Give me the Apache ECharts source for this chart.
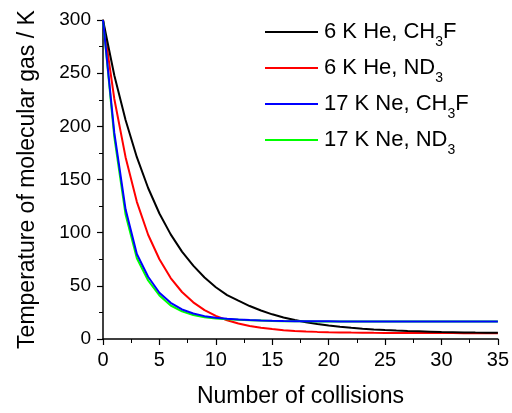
<!DOCTYPE html>
<html>
<head>
<meta charset="utf-8">
<script src="https://cdn.jsdelivr.net/npm/echarts@6/dist/echarts.min.js"></script>
<style>
html,body{margin:0;padding:0;background:#fff;}
#chart{width:512px;height:413px;}
</style>
</head>
<body>
<div id="chart"></div>
<script>
const collisions = [0,1,2,3,4,5,6,7,8,9,10,11,12,13,14,15,16,17,18,19,20,21,22,23,24,25,26,27,28,29,30,31,32,33,34,35];
const he6CH3F = [300,248,206,171,142,118,98.4,82.2,69,57.8,48.7,41.3,36,31,26.8,23.2,20.3,17.8,15.8,14.1,12.7,11.5,10.5,9.7,9.0,8.4,7.9,7.5,7.2,6.9,6.6,6.4,6.2,6.0,5.9,5.8];
const he6ND3 = [300,226,171,129,98,75,57.3,44.2,34.5,27.2,21.7,17.6,14.6,12.3,10.6,9.3,8.3,7.6,7.1,6.7,6.4,6.2,6.0,5.9,5.8,5.75,5.7,5.65,5.6,5.6,5.55,5.55,5.5,5.5,5.5,5.5];
const ne17CH3F = [300,194,122,80,58.5,43.5,34,27.8,24,21.5,20,19,18.3,17.8,17.4,17.1,16.9,16.8,16.7,16.6,16.6,16.5,16.5,16.5,16.5,16.5,16.5,16.5,16.5,16.5,16.5,16.5,16.5,16.5,16.5,16.5];
const ne17ND3 = [300,190,117,76,55,41,31.5,26,22.5,20.5,19.3,18.6,18.1,17.6,17.3,17.0,16.8,16.7,16.6,16.5,16.5,16.5,16.5,16.5,16.5,16.5,16.5,16.5,16.5,16.5,16.5,16.5,16.5,16.5,16.5,16.5];
const seriesNames = ['6 K He, CH3F','6 K He, ND3','17 K Ne, CH3F','17 K Ne, ND3'];
const seriesColors = ['#000000','#ff0000','#0000ff','#00ff00'];
const xTicks = {min:0,max:35,interval:5};
const yTicks = {min:0,max:300,interval:50};
const xTitle = 'Number of collisions';
const yTitle = 'Temperature of molecular gas / K';

const FONT = "'Liberation Sans', Arial, sans-serif";
const pairs = arr => collisions.map((c,i)=>[c,arr[i]]);
const valuesBy = [he6CH3F, he6ND3, ne17CH3F, ne17ND3];
const zOrder = [4,3,6,5];

const chart = echarts.init(document.getElementById('chart'));
chart.setOption({
  animation:false,
  backgroundColor:'#fff',
  grid:{left:103,right:12,top:20,bottom:70,containLabel:false},
  legend:{
    data:seriesNames,
    orient:'vertical',
    left:260, top:16,
    icon:'rect',
    itemWidth:53, itemHeight:2, itemGap:8,
    selectedMode:false,
    textStyle:{
      fontSize:22, color:'#000', fontFamily:FONT, padding:[0,0,0,1],
      rich:{ s:{fontSize:14, color:'#000', fontFamily:FONT, padding:[20,0,0,0]} }
    },
    formatter: n => n.replace('CH3','CH{s|3}').replace('ND3','ND{s|3}')
  },
  xAxis:{
    type:'value', min:xTicks.min, max:xTicks.max, interval:xTicks.interval,
    name:xTitle, nameLocation:'middle', nameGap:46,
    nameTextStyle:{fontSize:23,color:'#000',fontFamily:FONT},
    axisLine:{show:true,onZero:false,lineStyle:{color:'#000',width:1.5}},
    axisTick:{show:true,length:6,lineStyle:{color:'#000',width:1.2}},
    minorTick:{show:true,splitNumber:2,length:4,lineStyle:{color:'#000',width:1}},
    axisLabel:{fontSize:20,color:'#000',fontFamily:FONT,margin:11},
    splitLine:{show:false}
  },
  yAxis:{
    type:'value', min:yTicks.min, max:yTicks.max, interval:yTicks.interval,
    name:yTitle, nameLocation:'middle', nameGap:64,
    nameTextStyle:{fontSize:23,color:'#000',fontFamily:FONT},
    axisLine:{show:true,onZero:false,lineStyle:{color:'#000',width:1.5}},
    axisTick:{show:true,length:6,lineStyle:{color:'#000',width:1.2}},
    minorTick:{show:true,splitNumber:2,length:4,lineStyle:{color:'#000',width:1}},
    axisLabel:{fontSize:19,color:'#000',fontFamily:FONT,margin:12},
    splitLine:{show:false}
  },
  series: seriesNames.map((nm,i)=>({
    name:nm, type:'line', data:pairs(valuesBy[i]),
    showSymbol:false, symbol:'none', smooth:false,
    lineStyle:{color:seriesColors[i],width:2},
    itemStyle:{color:seriesColors[i]},
    z:zOrder[i]
  }))
});
</script>
</body>
</html>
